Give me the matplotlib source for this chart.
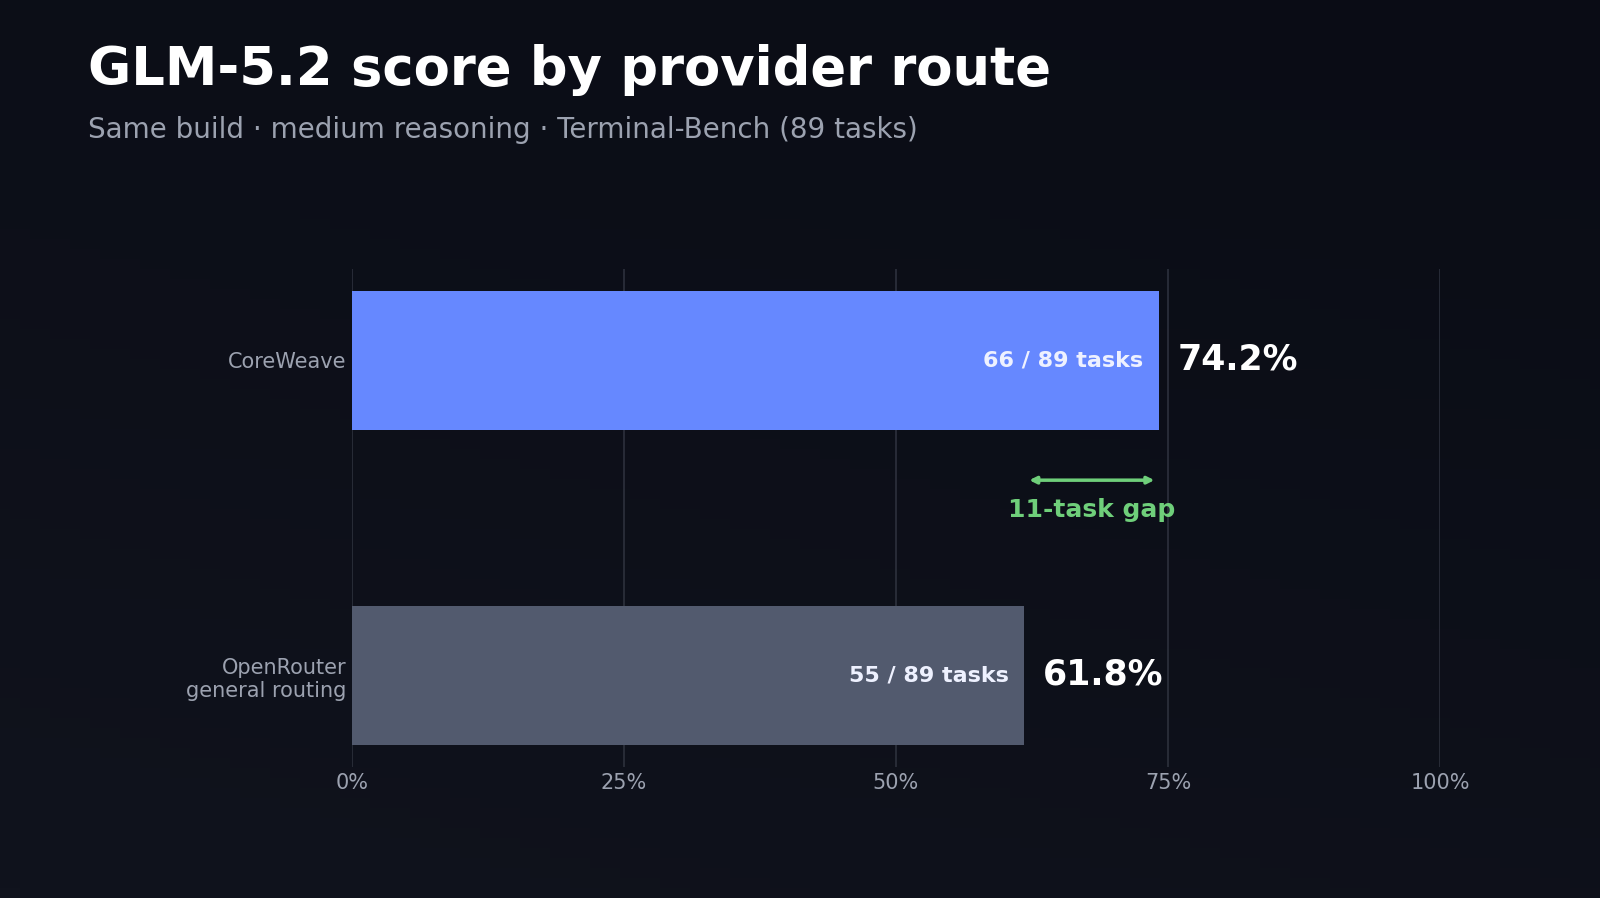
import numpy as np
import matplotlib as mpl
mpl.use('Agg')
import matplotlib.pyplot as plt

# data
providers = ['CoreWeave', 'OpenRouter\ngeneral routing']
scores = [74.2, 61.8]
solved = [66, 55]
total_tasks = 89
x_ticks = [0, 25, 50, 75, 100]
x_tick_labels = ['0%', '25%', '50%', '75%', '100%']
bar_colors = ['#6688ff', '#525a6e']

title = 'GLM-5.2 score by provider route'
subtitle = 'Same build \u00b7 medium reasoning \u00b7 Terminal-Bench (89 tasks)'
gap_label = '%d-task gap' % (solved[0] - solved[1])

BG = '#0c0f18'
GRID = '#2a2e3a'
MUTED = '#9ca2b0'
GREEN = '#6fcf7a'

plt.rcParams['font.family'] = ['DejaVu Sans']

fig = plt.figure(figsize=(16, 8.98), dpi=100, facecolor=BG)

# soft background shading
bg_ax = fig.add_axes([0, 0, 1, 1], zorder=-10)
gy, gx = np.mgrid[0:1:90j, 0:1:160j]
shade = 0.5 * gy + 0.25 * (1 - gx)
bg_cmap = mpl.colors.LinearSegmentedColormap.from_list('bg', ['#0a0c15', '#10131d'])
bg_ax.imshow(shade, cmap=bg_cmap, aspect='auto', extent=[0, 1, 0, 1], origin='upper')
bg_ax.set_axis_off()

ax = fig.add_axes([352 / 1600, 1 - 767 / 898, (1440 - 352) / 1600, (767 - 269) / 898])
ax.set_facecolor('none')

ypos = np.arange(len(providers))
ax.barh(ypos, scores, height=0.44, color=bar_colors, zorder=3)

ax.set_xlim(0, 100)
ax.set_ylim(1.29, -0.29)
ax.set_xticks(x_ticks)
ax.set_xticklabels(x_tick_labels)
ax.set_yticks(ypos)
ax.set_yticklabels(providers)
ax.tick_params(axis='both', length=0, colors=MUTED, labelsize=15)
ax.tick_params(axis='x', pad=4)
ax.tick_params(axis='y', pad=4)
for s in ax.spines.values():
    s.set_visible(False)
ax.grid(axis='x', color=GRID, linewidth=1.3, zorder=0)
ax.grid(axis='y', visible=False)

for i, (sc, n) in enumerate(zip(scores, solved)):
    ax.annotate('%d / %d tasks' % (n, total_tasks), xy=(sc, i), xytext=(-16, 0),
                textcoords='offset pixels', ha='right', va='center',
                fontsize=16, fontweight='bold', color='#eef1ff', zorder=4)
    ax.annotate('%.1f%%' % sc, xy=(sc, i), xytext=(18, 1),
                textcoords='offset pixels', ha='left', va='center',
                fontsize=25, fontweight='bold', color='white', zorder=4)

# gap marker between the two bars
ax.annotate('', xy=(scores[1], 0.38), xytext=(scores[0], 0.38),
            arrowprops=dict(arrowstyle='<|-|>', color=GREEN, lw=2.5,
                            mutation_scale=10, shrinkA=3.5, shrinkB=3.5), zorder=4)
ax.text((scores[0] + scores[1]) / 2, 0.435, gap_label, ha='center', va='top',
        fontsize=18, fontweight='bold', color=GREEN, zorder=4)

fig.text(88 / 1600, 1 - 85 / 898, title, ha='left', va='baseline',
         fontsize=38, fontweight='bold', color='white')
fig.text(88 / 1600, 1 - 138 / 898, subtitle, ha='left', va='baseline',
         fontsize=20, color=MUTED)

fig.savefig('out.png', dpi=100, facecolor=BG)
